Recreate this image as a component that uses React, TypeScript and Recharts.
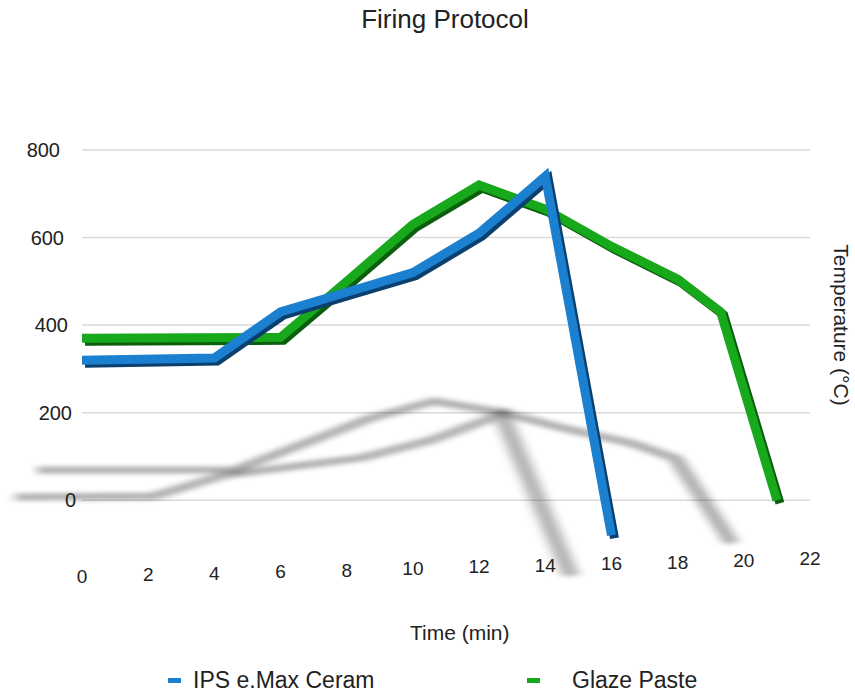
import { LineChart, Line, XAxis, YAxis, CartesianGrid } from 'recharts'

const timeTicks = [0, 2, 4, 6, 8, 10, 12, 14, 16, 18, 20, 22]
const tempTicks = [0, 200, 400, 600, 800]

const ipsTime = [0, 4, 6, 8, 10, 12, 14, 16]
const ipsTemp = [320, 325, 430, 475, 520, 610, 740, -80]

const glazeTime = [0, 6, 8, 10, 12, 14, 16, 18, 19.3, 21]
const glazeTemp = [370, 372, 500, 630, 720, 665, 580, 505, 430, 0]

const ipsData = ipsTime.map((t, i) => ({ t, v: ipsTemp[i] }))
const glazeData = glazeTime.map((t, i) => ({ t, v: glazeTemp[i] }))

const font = '"Liberation Sans", Arial, sans-serif'

// ground shadow + bevel edge, purely visual
const css = `
.shadow-ips .recharts-curve { transform: translate(-71px, 335px) scale(1.05, 0.45); filter: blur(5px); }
.shadow-glaze .recharts-curve { transform: translate(-45px, 318px) scale(1, 0.45); filter: blur(5px); }
.edge-line .recharts-curve { transform: translate(3px, 3px); }
`

// slight tilt of the labels, the original is drawn in perspective
const XTick = (p: any) => (
  <text x={p.x} y={p.y} dy={17 - p.index * 1.6} textAnchor="middle" fontSize={19} fill="#222" fontFamily={font}>{p.payload.value}</text>
)
const YTick = (p: any) => (
  <text x={p.x + p.index * 4} y={p.y} dy={7} textAnchor="end" fontSize={20} fill="#222" fontFamily={font}>{p.payload.value}</text>
)

export default function App() {
  return (
    <div style={{ position: 'absolute', left: 0, top: 0, width: 855, height: 695, background: '#fff', fontFamily: font }}>
      <style>{css}</style>
      <div style={{ position: 'absolute', top: 4, left: 0, width: 890, textAlign: 'center', fontSize: 26, color: '#222' }}>Firing Protocol</div>
      <LineChart width={855} height={695} data={ipsData} margin={{ top: 150, right: 45, bottom: 121, left: 22 }}>
        <CartesianGrid horizontal vertical={false} horizontalValues={tempTicks} stroke="#d9d9d9" strokeWidth={1.5} />
        <XAxis dataKey="t" type="number" domain={[0, 22]} ticks={timeTicks} axisLine={false} tickLine={false} tickSize={0} tickMargin={22} height={30}
          tick={XTick} />
        <YAxis type="number" domain={[-100, 800]} ticks={tempTicks.slice().reverse()} axisLine={false} tickLine={false} tickSize={0} tickMargin={22} width={60}
          tick={YTick} />
        <Line className="shadow-glaze" data={glazeData} dataKey="v" stroke="#000" strokeOpacity={0.3} strokeWidth={16} dot={false} isAnimationActive={false} legendType="none" />
        <Line className="shadow-ips" data={ipsData} dataKey="v" stroke="#000" strokeOpacity={0.3} strokeWidth={16} dot={false} isAnimationActive={false} legendType="none" />
        <Line className="edge-line" data={glazeData} dataKey="v" stroke="#0b5e0d" strokeWidth={9} strokeLinejoin="miter" dot={false} isAnimationActive={false} />
        <Line data={glazeData} dataKey="v" stroke="#18a81b" strokeWidth={9} strokeLinejoin="miter" dot={false} isAnimationActive={false} />
        <Line className="edge-line" data={ipsData} dataKey="v" stroke="#0b3f6e" strokeWidth={9} strokeLinejoin="miter" dot={false} isAnimationActive={false} />
        <Line data={ipsData} dataKey="v" stroke="#1b80cf" strokeWidth={9} strokeLinejoin="miter" dot={false} isAnimationActive={false} />
      </LineChart>
      <div style={{ position: 'absolute', left: 410, top: 621, fontSize: 21, color: '#222' }}>Time (min)</div>
      <div style={{ position: 'absolute', left: 841, top: 325, fontSize: 21, color: '#222', whiteSpace: 'nowrap', transform: 'translate(-50%, -50%) rotate(90deg)' }}>Temperature (°C)</div>
      <div style={{ position: 'absolute', top: 667, left: 0, width: 855, fontSize: 23, color: '#222' }}>
        <div style={{ position: 'absolute', left: 168, display: 'flex', alignItems: 'center' }}>
          <span style={{ width: 13, height: 5, background: '#1b80cf', marginRight: 12 }} />IPS e.Max Ceram
        </div>
        <div style={{ position: 'absolute', left: 527, display: 'flex', alignItems: 'center' }}>
          <span style={{ width: 13, height: 5, background: '#18a81b', marginRight: 32 }} />Glaze Paste
        </div>
      </div>
    </div>
  )
}
